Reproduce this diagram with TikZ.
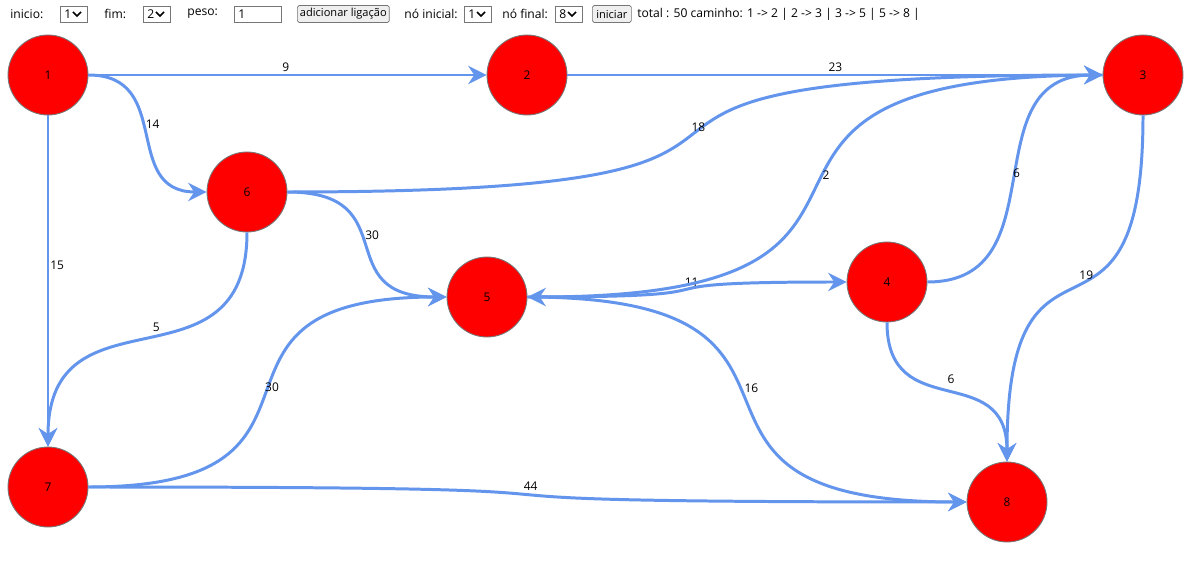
\documentclass[tikz,border=0pt]{standalone}
\usepackage{fontspec}
\setmainfont{Open Sans}
\usetikzlibrary{arrows.meta}
\definecolor{linkblue}{HTML}{6495ED}
\definecolor{btnfill}{HTML}{EFEFEF}
\definecolor{boxline}{HTML}{767676}
\tikzset{
  vertex/.style = {circle, fill=red, draw=boxline, line width=0.5pt,
                   minimum size=1.6cm, inner sep=0pt, font=\fontsize{6.8}{8}\selectfont},
  link/.style   = {draw=linkblue, line width=1.7pt,
                   -{Stealth[length=10.5pt, width=10.5pt, inset=3.5pt]}},
  weight/.style = {pos=0.49, anchor=south west, inner sep=0pt, xshift=-1.5pt, yshift=1.2pt,
                   font=\fontsize{6.8}{8}\selectfont},
  vweight/.style = {weight, xshift=2pt, yshift=2.3pt},
  bartext/.style = {anchor=west, inner sep=0pt, font=\fontsize{6.9}{9}\selectfont},
  selbox/.style  = {draw=boxline, anchor=west, minimum height=0.32cm, inner ysep=0pt,
                    inner xsep=0.08cm, text width=0.38cm, align=left,
                    font=\fontsize{6.9}{8}\selectfont},
  inbox/.style   = {selbox, text width=0.78cm},
  btn/.style     = {draw=boxline, fill=btnfill, rounded corners=1pt, anchor=west,
                    minimum height=0.34cm, inner sep=0pt, font=\fontsize{6.3}{8}\selectfont},
  chevron/.style = {line width=0.9pt}
}
\begin{document}
\begin{tikzpicture}[x=0.02cm, y=-0.02cm]
  \useasboundingbox (0,0) rectangle (1203,567);
  \fill[white] (0,0) rectangle (1203,567);

  % controls on top
  \node[bartext] (tinicio) at (10,14) {inicio:};
  \node[selbox] (sinicio) at (60,14) {1};
  \draw[chevron] (73,12) -- (77,16) -- (81,12);
  \node[bartext] (tfim) at (104,14) {fim:};
  \node[selbox] (sfim) at (143,14) {2};
  \draw[chevron] (156,12) -- (160,16) -- (164,12);
  \node[bartext] (tpeso) at (187,14) {peso:};
  \node[inbox] (ipeso) at (234,14) {1};
  \node[btn, minimum width=1.84cm] (badd) at (297,14) {adicionar ligação};
  \node[bartext] (tini) at (404,14) {nó inicial:};
  \node[selbox] (sini) at (464,14) {1};
  \draw[chevron] (477,12) -- (481,16) -- (485,12);
  \node[bartext] (tfin) at (502,14) {nó final:};
  \node[selbox] (sfin) at (555,14) {8};
  \draw[chevron] (568,12) -- (572,16) -- (576,12);
  \node[btn, minimum width=0.78cm] (bstart) at (592,14) {iniciar};
  \node[bartext] (tresult) at (637,14) {total : 50 caminho: 1 -> 2 | 2 -> 3 | 3 -> 5 | 5 -> 8 |};

  % vertices
  \node[vertex] (v1) at (48,75) {1};
  \node[vertex] (v2) at (527,75) {2};
  \node[vertex] (v3) at (1143,75) {3};
  \node[vertex] (v4) at (887,282) {4};
  \node[vertex] (v5) at (487,297) {5};
  \node[vertex] (v6) at (247,192) {6};
  \node[vertex] (v7) at (48,487) {7};
  \node[vertex] (v8) at (1007,502) {8};

  % links
  \draw[link] (v1) -- (v2) node[weight] {9};
  \draw[link] (v2) -- (v3) node[weight] {23};
  \draw[link] (v1) -- (v7) node[vweight] {15};
  \draw[link] (v1.east) .. controls +(86,0) and +(-86,0) .. (v6.west) node[weight] {14};
  \draw[link] (v6.east) .. controls +(120,0) and +(-120,0) .. (v5.west) node[weight] {30};
  \draw[link] (v6.east) .. controls +(658,0) and +(-658,0) .. (v3.west) node[weight] {18};
  \draw[link] (v6.south) .. controls +(0,165) and +(0,-165) .. (v7.north) node[vweight] {5};
  \draw[link] (v7.east) .. controls +(283,0) and +(-283,0) .. (v5.west) node[weight] {30};
  \draw[link] (v7.east) .. controls +(709,0) and +(-709,0) .. (v8.west) node[weight] {44};
  \draw[link] (v5.east) .. controls +(251,0) and +(-251,0) .. (v4.west) node[weight] {11};
  \draw[link] (v3.west) .. controls +(-461,0) and +(461,0) .. (v5.east) node[weight, xshift=4pt] {2};
  \draw[link] (v5.east) .. controls +(349,0) and +(-349,0) .. (v8.west) node[weight] {16};
  \draw[link] (v4.east) .. controls +(133,0) and +(-133,0) .. (v3.west) node[weight] {6};
  \draw[link] (v3.south) .. controls +(0,273) and +(0,-273) .. (v8.north) node[vweight] {19};
  \draw[link] (v4.south) .. controls +(0,103) and +(0,-103) .. (v8.north) node[vweight] {6};
\end{tikzpicture}
\end{document}
